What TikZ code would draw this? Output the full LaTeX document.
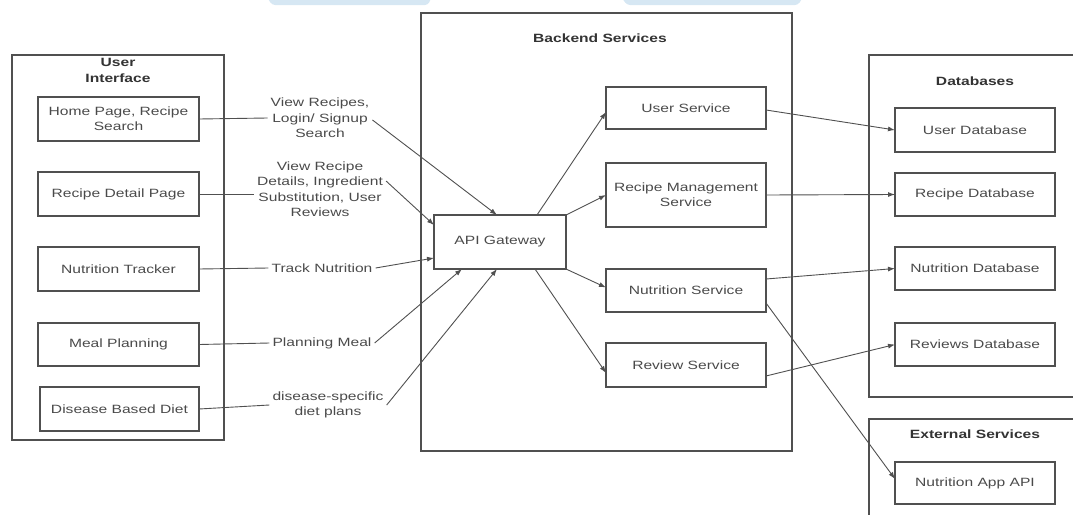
\documentclass[tikz,border=0pt]{standalone}
\usepackage{fontspec}
\setmainfont[FakeStretch=1.3]{Liberation Sans}
\usetikzlibrary{arrows.meta,calc}
\definecolor{linec}{HTML}{505050}
\definecolor{textc}{HTML}{4A4A4A}
\definecolor{titlec}{HTML}{333333}
\definecolor{wm}{HTML}{D6E7F3}
\begin{document}
\begin{tikzpicture}[x=1pt,y=-1pt,
  box/.style={draw=linec, line width=1.1pt, rectangle, inner sep=2pt, outer sep=0pt, align=center, text=textc, font=\fontsize{12}{15}\selectfont, minimum width=160pt},
  frame/.style={draw=linec, line width=1.1pt, rectangle, inner sep=0pt, outer sep=0pt},
  title/.style={font=\bfseries\fontsize{12}{16.5}\selectfont, text=titlec, align=center},
  lbl/.style={align=center, text=textc, font=\fontsize{12}{15.5}\selectfont, inner sep=3pt},
  conn/.style={draw=linec, line width=0.9pt},
  arr/.style={conn, -{Latex[length=7pt,width=5pt]}}]
\useasboundingbox (0,0) rectangle (1073,514);
\clip (0,0) rectangle (1073,514);
\fill[wm, rounded corners=3pt] (265,-6) -- (433,-6) -- (428,5) -- (272,5) -- cycle;
\fill[wm, rounded corners=3pt] (619,-6) -- (805,-6) -- (798,5) -- (627,5) -- cycle;

% containers
\node[frame, minimum width=212pt, minimum height=385pt] (ui) at (118,247.5) {};
\node[frame, minimum width=371pt, minimum height=438pt] (be) at (606.5,232) {};
\node[frame, minimum width=211pt, minimum height=342pt] (dbs) at (974.5,226) {};
\node[frame, minimum width=211pt, minimum height=106pt] (ext) at (974.5,472) {};

\node[title] (uit) at (118,70.5) {User\\Interface};
\node[title] (bet) at (600,38) {Backend Services};
\node[title] (dbt) at (975,81) {Databases};
\node[title] (ext) at (975,434) {External Services};

% UI boxes
\node[box, minimum width=161pt, minimum height=44pt] (home) at (118.5,119) {Home Page, Recipe\\Search};
\node[box, minimum width=161pt, minimum height=44pt] (detail) at (118.5,194) {Recipe Detail Page};
\node[box, minimum width=161pt, minimum height=44pt] (track) at (118.5,269) {Nutrition Tracker};
\node[box, minimum width=161pt, minimum height=43pt] (meal) at (118.5,344.5) {Meal Planning};
\node[box, minimum width=159pt, minimum height=44pt] (dis) at (119.5,409) {Disease Based Diet};

% labels
\node[lbl] (l1) at (320,118) {View Recipes,\\Login/ Signup\\Search};
\node[lbl] (l2) at (320,189) {View Recipe\\Details, Ingredient\\Substitution, User\\Reviews};
\node[lbl] (l3) at (322,268) {Track Nutrition};
\node[lbl] (l4) at (322,343) {Planning Meal};
\node[lbl] (l5) at (328,405) {disease-specific\\diet plans};

% API gateway
\node[box, minimum width=132pt, minimum height=54pt] (api) at (500,242) {API Gateway};

% services
\node[box, minimum height=42pt] (us) at (686,108) {User Service};
\node[box, minimum height=64pt] (rm) at (686,195) {Recipe Management\\Service};
\node[box, minimum height=43pt] (ns) at (686,290.5) {Nutrition Service};
\node[box, minimum height=44pt] (rs) at (686,365) {Review Service};

% databases
\node[box, minimum height=44pt] (udb) at (975,130) {User Database};
\node[box, minimum height=43pt] (rdb) at (975,194.5) {Recipe Database};
\node[box, minimum height=43pt] (ndb) at (975,268.5) {Nutrition Database};
\node[box, minimum height=43pt] (vdb) at (975,344.5) {Reviews Database};
\node[box, minimum height=42pt] (napi) at (975,483) {Nutrition App API};

% UI -> labels
\draw[conn] (home.east) -- (l1.west);
\draw[conn] (detail.east) -- (detail.east -| l2.west);
\draw[conn] (track.east) -- (l3.west);
\draw[conn] (meal.east) -- (l4.west);
\draw[conn] (dis.east) -- (l5.west);

% labels -> API
\draw[arr] ([yshift=-2pt]l1.east) -- ([xshift=-3pt]api.north);
\draw[arr] ([yshift=8pt]l2.east) -- ([yshift=-10pt]api.north west);
\draw[arr] (l3.east) -- ([yshift=11pt]api.south west);
\draw[arr] (l4.east) -- ([xshift=28pt]api.south west);
\draw[arr] (l5.east) -- ([xshift=-3pt]api.south);

% API -> services
\draw[arr] ([xshift=37pt]api.north) -- ([yshift=-4pt]us.west);
\draw[arr] (api.north east) -- (rm.west);
\draw[arr] (api.south east) -- ([yshift=3pt]ns.west);
\draw[arr] ([xshift=35pt]api.south) -- ([yshift=-8pt]rs.west);

% services -> databases
\draw[arr] ([yshift=-2pt]us.east) -- (udb.west);
\draw[arr] (rm.east) -- (rdb.west);
\draw[arr] ([yshift=11.5pt]ns.east) -- (ndb.west);
\draw[arr] ([yshift=-11pt]rs.east) -- (vdb.west);
\draw[arr] ([yshift=-12.5pt]ns.east) -- ([yshift=4pt]napi.west);
\end{tikzpicture}
\end{document}
